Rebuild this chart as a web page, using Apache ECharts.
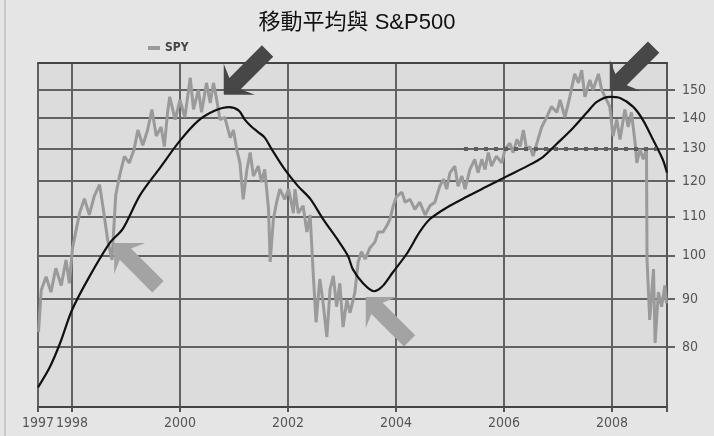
<!DOCTYPE html>
<html><head><meta charset="utf-8">
<script src="https://cdn.jsdelivr.net/npm/echarts@6/dist/echarts.min.js"></script>
<style>html,body{margin:0;padding:0;background:#e5e5e5}#c{width:714px;height:436px}</style>
</head><body><div id="c"></div><script>
const titleText = '移動平均與 S&P500';
const legendName = 'SPY';
const maName = '移動平均';

const spyYears = [
 1997.38,1997.43,1997.52,1997.61,1997.70,1997.80,1997.89,1997.95,1998.01,1998.14,
 1998.23,1998.32,1998.41,1998.51,1998.57,1998.66,1998.74,1998.81,1998.88,1998.97,
 1999.06,1999.15,1999.22,1999.31,1999.40,1999.48,1999.56,1999.65,1999.71,1999.77,
 1999.81,1999.91,2000.00,2000.09,2000.19,2000.25,2000.34,2000.40,2000.49,2000.56,
 2000.62,2000.68,2000.74,2000.83,2000.93,2000.99,2001.05,2001.11,2001.17,2001.24,
 2001.30,2001.36,2001.45,2001.51,2001.57,2001.64,2001.67,2001.73,2001.79,2001.85,
 2001.94,2002.01,2002.04,2002.10,2002.13,2002.19,2002.28,2002.35,2002.41,2002.47,
 2002.52,2002.59,2002.65,2002.72,2002.78,2002.84,2002.90,2002.96,2003.02,2003.09,
 2003.15,2003.24,2003.30,2003.36,2003.43,2003.52,2003.61,2003.67,2003.76,2003.83,
 2003.89,2003.95,2004.01,2004.11,2004.17,2004.26,2004.35,2004.44,2004.54,2004.63,
 2004.72,2004.81,2004.88,2004.94,2005.00,2005.09,2005.15,2005.22,2005.28,2005.37,
 2005.46,2005.52,2005.59,2005.65,2005.71,2005.77,2005.86,2005.96,2006.02,2006.11,
 2006.17,2006.24,2006.30,2006.36,2006.42,2006.48,2006.54,2006.61,2006.70,2006.79,
 2006.88,2006.98,2007.04,2007.13,2007.22,2007.31,2007.38,2007.44,2007.50,2007.59,
 2007.65,2007.75,2007.81,2007.90,2007.96,2008.02,2008.09,2008.15,2008.24,2008.30,
 2008.36,2008.43,2008.46,2008.52,2008.58,2008.64,2008.65,2008.70,2008.77,2008.80,
 2008.86,2008.92,2008.98,2009.01
];
const spyValues = [
 83,92,95,91.5,97,93,99,93.5,102,111,
 115,110.5,115.6,119,113,104,99,116,121.5,127.5,
 125.5,129.7,136,131,136,143,134,137,130.6,142,
 147.5,139.5,146.4,140.3,154.5,143,150,142,152.6,145.3,
 152.6,146.4,139.5,140.3,133.5,136,129.7,125.5,114.8,123.5,
 128.7,121.5,124.5,119.7,123.5,112,98.5,109.4,114,117.7,
 114.8,117.7,115.6,111,117.7,111,113,106,110.5,95.2,
 85,94.5,89.2,82,92.2,95.2,88.3,93.5,84,89.8,
 87,91.5,98.5,101,99.2,102,103.4,106,106,107.6,
 109.4,113,115.6,116.8,114,114.8,112,114,110.5,113,
 114,118.5,120.6,117.7,122.5,124.5,118.5,121.5,117.7,123.5,
 126.6,122.5,126.6,123.5,128.7,124.5,127.6,125.5,129.7,131.7,
 128.7,132.9,130.6,136,129.7,130.6,127.6,131.7,137,140.3,
 144,142,146.4,140.3,147.5,156,152.6,157.4,147.5,153.7,
 150,156,150,146.4,144,134,139.5,132.9,143,137,
 142,131.7,125.5,129.7,126.6,129.7,99.2,85.5,96.8,80.8,
 91.5,88.3,93,89
];
const maYears = [1997.37,1997.59,1997.78,1998.00,1998.33,1998.70,1998.94,1999.26,1999.63,2000.00,
 2000.33,2000.65,2000.91,2001.09,2001.20,2001.33,2001.44,2001.57,2001.70,2001.94,
 2002.19,2002.41,2002.65,2002.91,2003.11,2003.20,2003.39,2003.59,2003.74,2003.94,
 2004.20,2004.44,2004.63,2004.94,2005.31,2005.69,2006.06,2006.43,2006.72,2006.98,
 2007.28,2007.54,2007.72,2007.96,2008.15,2008.39,2008.57,2008.76,2008.94,2009.02];
const maValues = [72.5,76.2,80.8,87.6,95.2,103.2,106.8,116,124,132.5,
 139,142.6,143.8,142.6,139.5,137,135.4,133.5,129.7,123.5,
 118.5,115,109.4,104.2,100,96.8,93.5,91.7,92.7,96,
 100.5,106,109.4,112.5,115.5,118.5,121.5,124.5,127.3,131.5,
 136.7,142,145.7,147.5,147.1,144,139.5,132.9,126.6,122.5];

const yTicks = [80,90,100,110,120,130,140,150];
const xTickYears = [1997.37,1998,2000,2002,2004,2006,2008];
const xTickLabels = ['1997','1998','2000','2002','2004','2006','2008'];
const xMin = 1997.37, xMax = 2009.02;
const yMin = 69.1, yMax = 160.2;
const levelValue = 130, levelStart = 2005.26, levelEnd = 2008.83;
// annotation arrows: tip position in data units, tail direction
const arrowYears  = [2000.81, 2007.96, 1998.78, 2003.44];
const arrowValues = [148.2, 149.6, 103.2, 90.4];
const arrowTails  = ['ne','ne','se','se'];
const arrowDark   = [true, true, false, false];

const L = Math.log;
const narrow = "'Liberation Sans Narrow','DejaVu Sans Condensed','Liberation Sans',sans-serif";
const chart = echarts.init(document.getElementById('c'), null, {renderer:'canvas'});

const gridLine = {color:'#626262', width:2};
chart.setOption({
  backgroundColor:'#e5e5e5',
  animation:false,
  title:{text:titleText, left:'center', top:7,
    textStyle:{fontSize:22, fontWeight:'normal', color:'#111',
      fontFamily:"'Liberation Sans','Noto Sans CJK TC',sans-serif"}},
  legend:{data:[{name:legendName, icon:'rect'}], left:148, top:42, padding:0,
    itemWidth:12, itemHeight:4,
    textStyle:{fontFamily:narrow, fontWeight:'bold', fontSize:12, color:'#444'}},
  grid:{left:38, right:47, top:63, bottom:29, show:true, backgroundColor:'#dcdcdc', borderWidth:0},
  xAxis:[{
    type:'value', min:xMin, max:xMax, position:'bottom',
    axisLine:{show:true, onZero:false, lineStyle:{color:'#444', width:2}},
    axisTick:{show:true, customValues:xTickYears.concat([xMax]), length:5, lineStyle:{color:'#555', width:2}},
    axisLabel:{customValues:xTickYears, margin:9, fontFamily:narrow, fontSize:14, color:'#555',
      formatter:v=>{const i=xTickYears.findIndex(t=>Math.abs(t-v)<1e-6); return i>=0?xTickLabels[i]:'';}},
    splitLine:{show:true, lineStyle:gridLine}
  },{
    type:'value', min:xMin, max:xMax, position:'top',
    axisLine:{show:true, onZero:false, lineStyle:{color:'#444', width:2}},
    axisTick:{show:false}, axisLabel:{show:false}, splitLine:{show:false}
  }],
  yAxis:{
    type:'value', position:'right', min:L(yMin), max:L(yMax),
    axisLine:{show:true, onZero:false, lineStyle:{color:'#555', width:2}},
    axisTick:{show:true, customValues:yTicks.map(L), length:8, lineStyle:{color:'#626262', width:2}},
    axisLabel:{customValues:yTicks.map(L), margin:15, fontFamily:narrow, fontSize:14, color:'#555',
      formatter:v=>String(Math.round(Math.exp(v)))},
    splitLine:{show:true, lineStyle:gridLine}
  },
  series:[{
    name:legendName, type:'line', showSymbol:false, z:3,
    data:spyYears.map((y,i)=>[y, L(spyValues[i])]),
    lineStyle:{color:'#9a9a9a', width:3}, itemStyle:{color:'#9a9a9a'},
    markLine:{silent:true, symbol:'none', label:{show:false},
      lineStyle:{type:[4,6], color:'#5e5e5e', width:4},
      data:[[{coord:[levelStart, L(levelValue)]},{coord:[levelEnd, L(levelValue)]}]]}
  },{
    name:maName, type:'line', showSymbol:false, smooth:0.3, z:4,
    data:maYears.map((y,i)=>[y, L(maValues[i])]),
    lineStyle:{color:'#111', width:2.2}, itemStyle:{color:'#111'}
  }]
});

function arrowPoly(tip, tail){
  const u = tail==='ne' ? [0.7071,-0.7071] : [0.7071,0.7071];
  const p = [-u[1], u[0]];
  const h=22, w=22, s=8, hb=16, len=62;
  const pt=(a,b)=>[tip[0]+a*u[0]+b*p[0], tip[1]+a*u[1]+b*p[1]];
  return [pt(0,0), pt(h,w), pt(hb,s), pt(len,s), pt(len,-s), pt(hb,-s), pt(h,-w)];
}
const graphics = [{type:'line', shape:{x1:5,y1:0,x2:5,y2:436}, style:{stroke:'#aaa', lineWidth:1}, z:0}];
arrowYears.forEach((yr,i)=>{
  const tip = chart.convertToPixel({xAxisIndex:0, yAxisIndex:0}, [yr, L(arrowValues[i])]);
  graphics.push({type:'polygon', shape:{points:arrowPoly(tip, arrowTails[i])},
    style:{fill: arrowDark[i] ? '#474747' : '#a3a3a3'}, z:100});
});
chart.setOption({graphic:graphics});
</script></body></html>
